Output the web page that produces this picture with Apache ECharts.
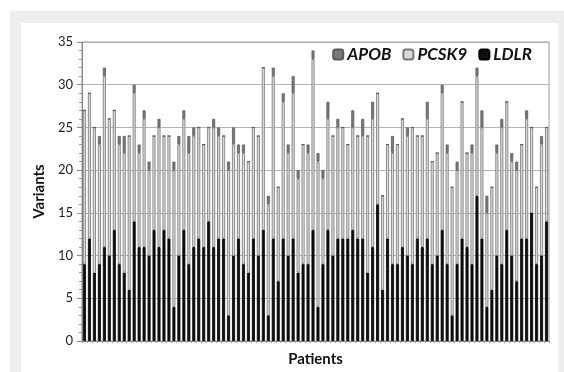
<!DOCTYPE html>
<html>
<head>
<meta charset="utf-8">
<script src="https://cdn.jsdelivr.net/npm/echarts@6/dist/echarts.min.js"></script>
<style>
  html, body { margin: 0; padding: 0; background: #fff; }
  #frame { position: absolute; left: 10px; top: 11px; right: 0; bottom: 0; background: #eeeeee; }
  #main { position: absolute; left: 21px; top: 23px; width: 537px; height: 349px; background: #fff; }
</style>
</head>
<body>
<div id="frame"></div>
<div id="main"></div>
<script>
// one entry per patient, counts
const ldlr = [9, 12, 8, 9, 11, 10, 13, 9, 8, 6, 14, 11, 11, 10, 13, 11, 13, 12, 4, 10,
  13, 9, 11, 12, 11, 14, 11, 12, 12, 3, 10, 12, 9, 8, 12, 10, 13, 3, 12, 7,
  12, 10, 12, 8, 9, 9, 13, 4, 9, 13, 10, 12, 12, 12, 13, 12, 12, 8, 11, 16,
  6, 12, 9, 9, 11, 10, 9, 12, 11, 12, 9, 10, 13, 9, 3, 9, 12, 11, 9, 17,
  12, 4, 6, 10, 9, 13, 10, 7, 12, 12, 15, 9, 10, 14]
const pcsk9 = [18, 17, 17, 14, 20, 16, 14, 14, 14, 18, 15, 11, 15, 10, 11, 14, 11, 12, 16, 13,
  13, 13, 13, 13, 12, 11, 14, 12, 12, 17, 13, 10, 13, 13, 13, 14, 19, 13, 19, 11,
  16, 12, 17, 11, 14, 13, 20, 17, 10, 13, 14, 13, 13, 11, 12, 12, 12, 16, 15, 13,
  11, 11, 13, 14, 15, 14, 16, 12, 13, 14, 12, 12, 16, 13, 15, 11, 16, 11, 13, 14,
  13, 11, 12, 12, 16, 15, 11, 13, 11, 14, 10, 9, 13, 11]
const apob = [0, 0, 0, 1, 1, 0, 0, 1, 2, 0, 1, 1, 1, 1, 0, 1, 0, 0, 1, 1,
  1, 2, 1, 0, 0, 0, 1, 1, 0, 1, 2, 1, 1, 0, 0, 0, 0, 1, 1, 0,
  1, 1, 2, 1, 0, 1, 1, 1, 1, 2, 0, 1, 0, 0, 2, 0, 2, 0, 2, 0,
  0, 0, 2, 0, 0, 1, 0, 0, 0, 2, 0, 0, 1, 1, 0, 1, 0, 0, 1, 1,
  2, 2, 0, 1, 1, 0, 1, 1, 0, 1, 0, 0, 1, 0]
const patients = ldlr.map((v, i) => 'P' + (i + 1))
const yTicks = [0, 5, 10, 15, 20, 25, 30, 35]

const font = 'Lato, "Open Sans", sans-serif'

const barSeries = (name, data, color, border) => ({
  name,
  type: 'bar',
  stack: 'genes',
  data,
  barWidth: 3,
  itemStyle: { color, borderColor: border, borderWidth: 0.8 },
  emphasis: { disabled: true }
})

const chart = echarts.init(document.getElementById('main'))
chart.setOption({
  animation: false,
  textStyle: { fontFamily: font },
  grid: {
    left: 61, right: 9, top: 19, bottom: 27,
    show: true, borderColor: '#9a9a9a', borderWidth: 1
  },
  legend: {
    data: ['APOB', 'PCSK9', 'LDLR'],
    right: 21, top: 18,
    itemWidth: 10, itemHeight: 10, itemGap: 11,
    textStyle: { fontFamily: font, fontSize: 17, fontWeight: 'bold', fontStyle: 'italic', color: '#111', padding: [0, 0, 0, -1] }
  },
  xAxis: {
    type: 'category',
    data: patients,
    name: 'Patients',
    nameLocation: 'middle',
    nameGap: 11,
    nameTextStyle: { fontFamily: font, fontSize: 15, fontWeight: 'bold', color: '#111' },
    axisLine: { lineStyle: { color: '#888' } },
    axisTick: { show: true, interval: 0, length: 2, lineStyle: { color: '#999' } },
    axisLabel: { show: false },
    splitLine: { show: false }
  },
  yAxis: {
    type: 'value',
    min: yTicks[0], max: yTicks[yTicks.length - 1], interval: 5,
    name: 'Variants',
    nameLocation: 'middle',
    nameGap: 29,
    nameTextStyle: { fontFamily: font, fontSize: 15, fontWeight: 'bold', color: '#111' },
    axisLine: { show: true, lineStyle: { color: '#888' } },
    axisTick: { show: true, length: 5, lineStyle: { color: '#888' } },
    minorTick: { show: true, splitNumber: 5, length: 3, lineStyle: { color: '#999' } },
    axisLabel: { fontFamily: font, fontSize: 13, color: '#222', margin: 9 },
    splitLine: { lineStyle: { color: '#b4b4b4' } }
  },
  series: [
    barSeries('LDLR', ldlr, '#111111', '#000000'),
    barSeries('PCSK9', pcsk9, '#d9d9d9', '#777777'),
    barSeries('APOB', apob, '#7a7a7a', '#5a5a5a')
  ]
})
</script>
</body>
</html>
